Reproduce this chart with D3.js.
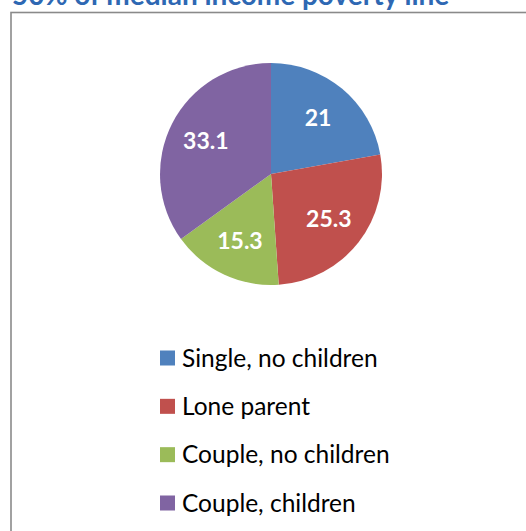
<!DOCTYPE html>
<html><head><meta charset="utf-8">
<script src="https://cdn.jsdelivr.net/npm/d3@7"></script>
<style>html,body{margin:0;padding:0;background:#fff;overflow:hidden}</style>
</head><body>
<svg id="c" width="526" height="531"></svg>
<script>
const title = "50% of median income poverty line";
const categories = ["Single, no children", "Lone parent", "Couple, no children", "Couple, children"];
const values = [21, 25.3, 15.3, 33.1];
const colors = ["#4F81BD", "#C0504D", "#9BBB59", "#8064A2"];

const svg = d3.select("#c");
const font = "Lato, 'Noto Sans', sans-serif";

svg.append("text").attr("x", 12).attr("y", 5)
  .attr("font-family", font).attr("font-weight", "bold").attr("font-size", 28)
  .attr("fill", "#2E68B3").text(title);

svg.append("rect").attr("x", 11).attr("y", 12.5).attr("width", 540).attr("height", 540)
  .attr("fill", "none").attr("stroke", "#8a8a8a").attr("stroke-width", 1.6);

const cx = 271, cy = 174, r = 111;
const pie = d3.pie().sort(null).value(d => d)(values);
const arc = d3.arc().innerRadius(0).outerRadius(r);
const labelArc = d3.arc().innerRadius(r * 0.66).outerRadius(r * 0.66);
const g = svg.append("g").attr("transform", `translate(${cx},${cy})`);
g.selectAll("path").data(pie).join("path")
  .attr("d", arc).attr("fill", (d, i) => colors[i]);
g.selectAll("text").data(pie).join("text")
  .attr("transform", d => `translate(${labelArc.centroid(d)})`)
  .attr("text-anchor", "middle").attr("dy", "0.36em")
  .attr("font-family", font).attr("font-weight", "bold").attr("font-size", 23)
  .attr("fill", "#fff").text(d => d.data);

const y = d3.scalePoint().domain(categories).range([358, 503]);
const lg = svg.append("g");
lg.selectAll("rect").data(categories).join("rect")
  .attr("x", 160).attr("y", d => y(d) - 7.5).attr("width", 15).attr("height", 15)
  .attr("fill", (d, i) => colors[i]);
lg.selectAll("text").data(categories).join("text")
  .attr("x", 182).attr("y", d => y(d)).attr("dy", "0.35em")
  .attr("font-family", font).attr("font-size", 24.5).attr("fill", "#000").text(d => d);
</script>
</body></html>
